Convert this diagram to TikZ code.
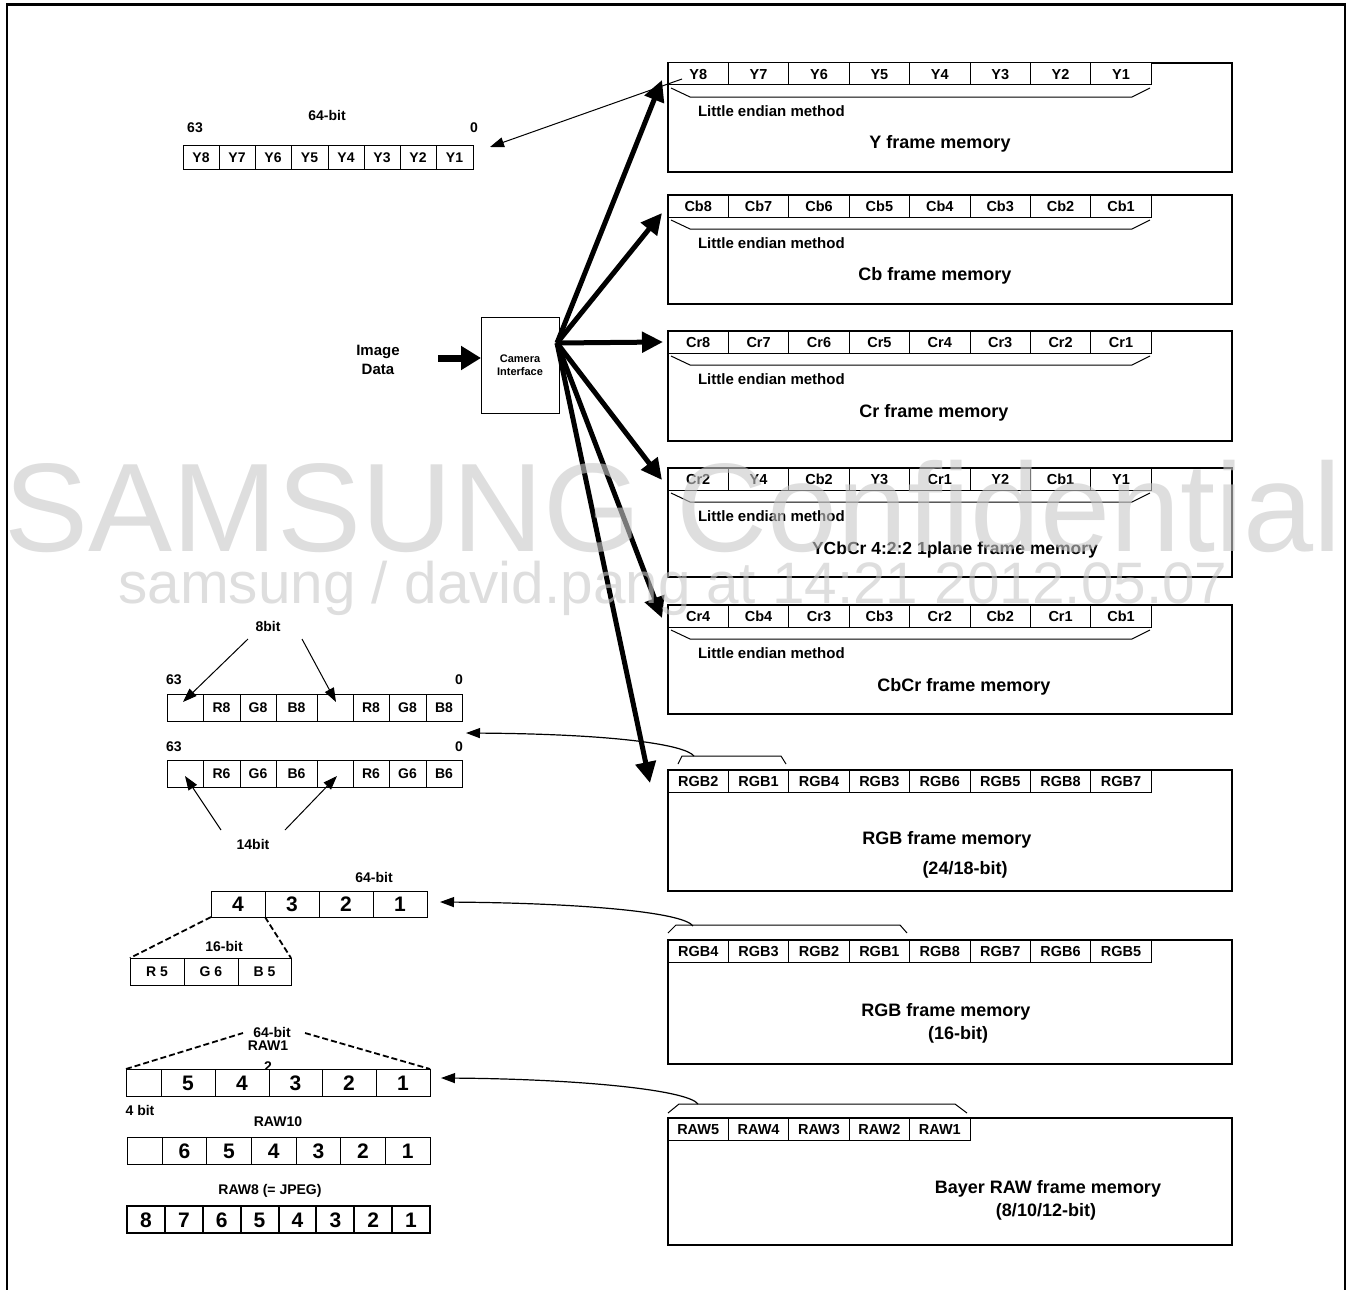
\documentclass[tikz,border=0pt]{standalone}
\usepackage{fontspec}
\setmainfont{Liberation Sans}
\usetikzlibrary{arrows.meta}
\definecolor{wm}{RGB}{200,200,200}
\newcommand\fs[1]{\fontsize{#1}{#1}\selectfont}
\newcommand\memrow[3]{%
  \foreach \t [count=\i] in {#3} {
    \node[mcell] (#1\i) at ({668+(\i-1)*60.4},#2) {\t};
  }}
\newcommand\lebr[1]{\draw[brk] (671,{#1+25}) -- (690,{#1+34}) -- (1132,{#1+34}) -- (1150,{#1+25});}
\newcommand\regrow[5]{%
  \foreach \a/\b/\t [count=\i] in {#4} {
    \node[rcell, minimum width={(\b-\a)*1pt}, minimum height=#3pt, font=\bfseries\fs{#5},
          text height={0.72*#5pt}, text depth=0pt] (#1\i) at (\a,#2) {\t};
  }}
\begin{document}
\begin{tikzpicture}[x=1pt,y=-1pt,
  every node/.style={inner sep=0pt, outer sep=0pt},
  txt/.style={font=\bfseries\fs{14}},
  let/.style={font=\bfseries\fs{15}, anchor=west},
  title/.style={font=\bfseries\fs{18}},
  fmem/.style={draw, line width=1.3pt, anchor=north west, minimum width=564pt},
  mcell/.style={draw, line width=1pt, fill=white, anchor=north west, minimum width=60.4pt, minimum height=22pt,
                font=\bfseries\fs{14.5}, text height=10.4pt, text depth=0pt},
  rcell/.style={draw, line width=1pt, fill=white, anchor=north west},
  fan/.style={line width=5pt, -{Triangle[length=21pt,width=20pt]}},
  thinarr/.style={line width=1pt, -{Triangle[length=14pt,width=10pt]}},
  curvarr/.style={line width=1.2pt, -{Triangle[length=14pt,width=10pt]}},
  brk/.style={line width=1pt},
  dsh/.style={line width=1.8pt, dash pattern=on 6pt off 3pt},
]
\useasboundingbox (0,0) rectangle (1355,1290);
% outer frame
\draw[line width=3pt] (6,5) -- (1346,5);
\draw[line width=1.5pt] (7,4) -- (7,1290);
\draw[line width=1.5pt] (1345,4) -- (1345,1290);

% ---------- frame memories ----------
\node[fmem, minimum height=109pt] (yfm) at (668,63) {};
\memrow{ym}{63}{Y8,Y7,Y6,Y5,Y4,Y3,Y2,Y1}
\lebr{63}
\node[let] (yle) at (698,111) {Little endian method};
\node[title] (yt) at (940,144) {Y frame memory};

\node[fmem, minimum height=109pt] (cbfm) at (668,195) {};
\memrow{cbm}{195}{Cb8,Cb7,Cb6,Cb5,Cb4,Cb3,Cb2,Cb1}
\lebr{195}
\node[let] (cble) at (698,243) {Little endian method};
\node[title] (cbt) at (935,276) {Cb frame memory};

\node[fmem, minimum height=110pt] (crfm) at (668,331) {};
\memrow{crm}{331}{Cr8,Cr7,Cr6,Cr5,Cr4,Cr3,Cr2,Cr1}
\lebr{331}
\node[let] (crle) at (698,379) {Little endian method};
\node[title] (crt) at (934,413) {Cr frame memory};

\node[fmem, minimum height=109pt] (yccfm) at (668,468) {};
\memrow{yccm}{468}{Cr2,Y4,Cb2,Y3,Cr1,Y2,Cb1,Y1}
\lebr{468}
\node[let] (yccle) at (698,516) {Little endian method};
\node[title, font=\bfseries\fs{17.5}] (ycct) at (955,550) {YCbCr 4:2:2 1plane frame memory};

\node[fmem, minimum height=109pt] (cbcrfm) at (668,605) {};
\memrow{cbcrm}{605}{Cr4,Cb4,Cr3,Cb3,Cr2,Cb2,Cr1,Cb1}
\lebr{605}
\node[let] (cbcrle) at (698,653) {Little endian method};
\node[title] (cbcrt) at (964,687) {CbCr frame memory};

\node[fmem, minimum height=121pt] (rgbfm) at (668,770) {};
\memrow{rgbm}{770}{RGB2,RGB1,RGB4,RGB3,RGB6,RGB5,RGB8,RGB7}
\draw[brk] (678,764) -- (682,756) -- (781,756) -- (786,764);
\node[title] (rgbt) at (947,840) {RGB frame memory};
\node[title] (rgbt2) at (965,870) {(24/18-bit)};

\node[fmem, minimum height=124pt] (r16fm) at (668,940) {};
\memrow{r16m}{940}{RGB4,RGB3,RGB2,RGB1,RGB8,RGB7,RGB6,RGB5}
\draw[brk] (668,933) -- (676,925) -- (900,925) -- (907,933);
\node[title] (r16t) at (946,1012) {RGB frame memory};
\node[title] (r16t2) at (958,1035) {(16-bit)};

\node[fmem, minimum height=127pt] (rawfm) at (668,1118) {};
\memrow{rawm}{1118}{RAW5,RAW4,RAW3,RAW2,RAW1}
\draw[brk] (668,1113) -- (679,1104) -- (955,1104) -- (967,1113);
\node[title] (rawt) at (1048,1189) {Bayer RAW frame memory};
\node[title] (rawt2) at (1046,1212) {(8/10/12-bit)};

% ---------- camera interface ----------
\node[draw, line width=1pt, minimum width=78pt, minimum height=96pt, align=center,
      font=\bfseries\fontsize{11}{13}\selectfont] (cam) at (520,365) {Camera\\Interface};
\node[align=center, font=\bfseries\fontsize{15}{19}\selectfont] (img) at (378,360) {Image\\Data};
\coordinate (ia) at (438,358);
\draw[line width=7pt, -{Triangle[length=20pt,width=23pt]}] (ia) -- (cam.west |- ia);

\coordinate (hub) at (557,343);
\coordinate (tY) at (662,80);
\coordinate (tCb) at (662,213);
\coordinate (tCr) at (663,342);
\coordinate (tYcc) at (662,480);
\coordinate (tCbCr) at (662,618);
\coordinate (tRGB) at (650,783);
\foreach \t in {tY,tCb,tCr,tYcc,tCbCr,tRGB} \draw[fan] (hub) -- (\t);

% ---------- Y register ----------
\node[txt] (y63) at (195,128) {63};
\node[txt] (y0) at (474,128) {0};
\node[txt] (y64) at (327,115) {64-bit};
\regrow{yr}{145}{24}{183/219/Y8,219/255/Y7,255/291/Y6,291/328/Y5,328/364/Y4,364/400/Y3,400/436/Y2,436/473/Y1}{14}
\coordinate (ys) at (682,79);
\coordinate (ye) at (490,147);
\draw[thinarr] (ys) -- (ye);

% ---------- RGB 24/18 registers ----------
\node[txt] (b8) at (268,626) {8bit};
\node[txt] (r8a) at (174,680) {63};
\node[txt] (r8b) at (459,680) {0};
\regrow{r8}{694}{27}{167/203/{},203/240/R8,240/276/G8,276/317/B8,317/353/{},353/389/R8,389/426/G8,426/462/B8}{14}
\node[txt] (r6a) at (174,747) {63};
\node[txt] (r6b) at (459,747) {0};
\regrow{r6}{760}{27}{167/203/{},203/240/R6,240/276/G6,276/317/B6,317/353/{},353/389/R6,389/426/G6,426/462/B6}{14}
\node[txt] (b14) at (253,844) {14bit};
\coordinate (b8s1) at (248,639);
\coordinate (b8s2) at (302,639);
\coordinate (b8e1) at (183,702);
\coordinate (b8e2) at (336,702);
\draw[thinarr] (b8s1) -- (b8e1);
\draw[thinarr] (b8s2) -- (b8e2);
\coordinate (b14s1) at (221,830);
\coordinate (b14s2) at (285,830);
\coordinate (b14e1) at (185,776);
\coordinate (b14e2) at (337,776);
\draw[thinarr] (b14s1) -- (b14e1);
\draw[thinarr] (b14s2) -- (b14e2);
\coordinate (c1s) at (694,756);
\coordinate (c1e) at (466,733);
\draw[curvarr] (c1s) .. controls (684,744) and (610,734) .. (c1e);

% ---------- RGB 16 registers ----------
\node[txt] (s64l) at (374,877) {64-bit};
\regrow{s64}{891}{26}{211/265/4,265/319/3,319/373/2,373/427/1}{21}
\node[txt] (s16l) at (224,946) {16-bit};
\draw[dsh] (s641.south west) -- (130,958);
\draw[dsh] (s641.south east) -- (291,958);
\regrow{s16}{958}{27}{130/184/R 5,184/238/G 6,238/291/B 5}{14}
\coordinate (c2s) at (693,926);
\coordinate (c2e) at (440,902);
\draw[curvarr] (c2s) .. controls (683,912) and (580,903) .. (c2e);

% ---------- RAW registers ----------
\node[txt] (rw64) at (272,1032) {64-bit};
\node[txt] (rw12a) at (268,1046) {RAW1};
\node[txt] (rw12b) at (268,1067) {2};
\draw[dsh] (126,1069) -- (243,1033);
\draw[dsh] (305,1033) -- (430,1069);
\regrow{rw12}{1069}{27}{126/161/{},161/215/5,215/269/4,269/322/3,322/376/2,376/430/1}{21}
\node[txt] (fourbit) at (140,1110) {4 bit};
\node[txt] (rw10l) at (278,1122) {RAW10};
\regrow{rw10}{1137}{27}{127/162/{},162/206.7/6,206.7/251.3/5,251.3/296/4,296/340.7/3,340.7/385.3/2,385.3/430/1}{21}
\node[txt] (rw8l) at (270,1191) {RAW8 (= JPEG)};
\begin{scope}[rcell/.append style={line width=2pt}]
\regrow{rw8}{1206}{27}{127/164.9/8,164.9/202.8/7,202.8/240.6/6,240.6/278.5/5,278.5/316.4/4,316.4/354.3/3,354.3/392.1/2,392.1/430/1}{21}
\end{scope}
\coordinate (c3s) at (698,1104);
\coordinate (c3e) at (441,1078);
\draw[curvarr] (c3s) .. controls (688,1090) and (580,1079) .. (c3e);

% ---------- watermark ----------
\node[font=\fs{126}, text=wm, text opacity=0.6, anchor=base] (wm1) at (673,551) {SAMSUNG Confidential};
\node[font=\fs{58.5}, text=wm, text opacity=0.6, anchor=base] (wm2) at (673,603) {samsung / david.pang at 14:21 2012.05.07};
\end{tikzpicture}
\end{document}
